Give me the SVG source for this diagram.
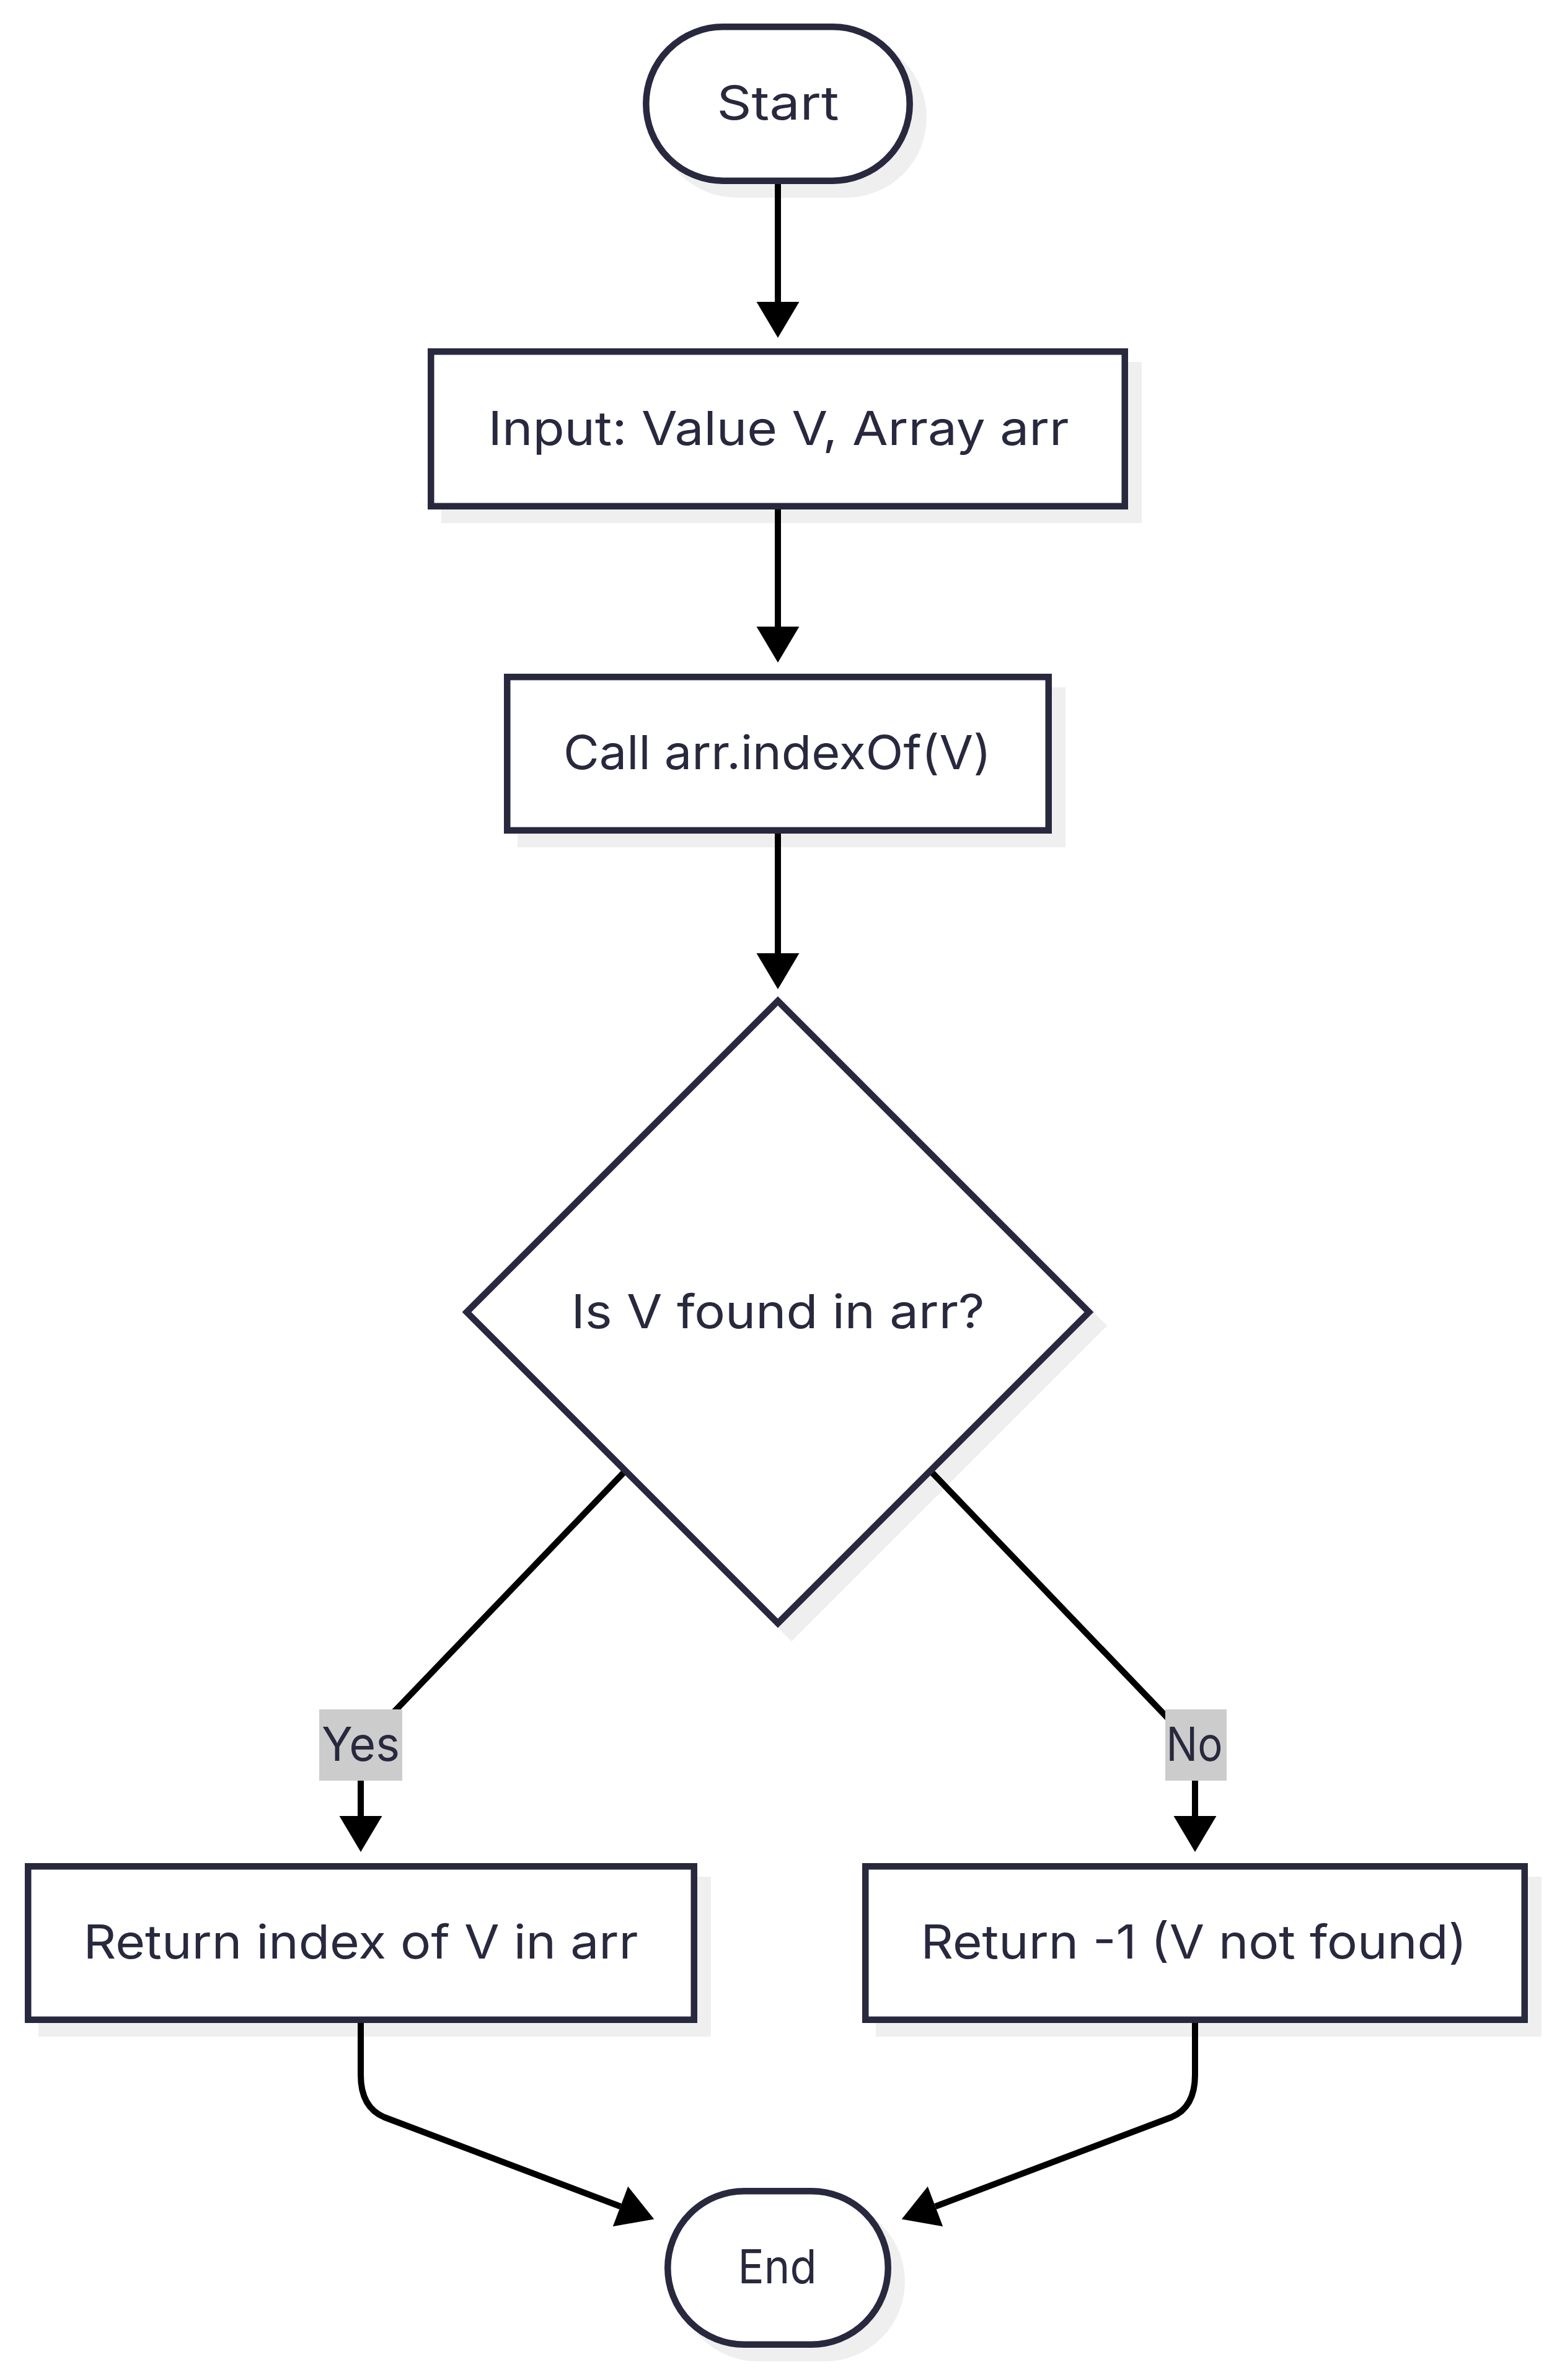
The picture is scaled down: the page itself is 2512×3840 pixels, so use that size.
<svg xmlns="http://www.w3.org/2000/svg" width="2512" height="3840" viewBox="0 0 2512 3840">
<style>
  .node-shape{fill:#ffffff;stroke:#28283e;stroke-width:10.5}
  .shadow{fill:#efefef;stroke:#efefef;stroke-width:10.5}
  .label{font-family:Inter,"Liberation Sans",sans-serif;font-size:76px;fill:#28283e;text-anchor:middle}
  .edge{fill:none;stroke:#000000;stroke-width:10;marker-end:url(#arrow)}
  .edge-label-bg{fill:#cccccc}
</style>
<defs>
  <marker id="arrow" markerUnits="userSpaceOnUse" markerWidth="60" markerHeight="70" refX="0" refY="34.5" orient="auto" overflow="visible">
    <path d="M0,0 L58,34.5 L0,69 z" fill="#000000"/>
  </marker>
</defs>
<rect x="0" y="0" width="2512" height="3840" fill="#ffffff"/>
<g id="shadows">
  <rect class="shadow" x="1064.3" y="65.3" width="425.4" height="248.4" rx="124.2" ry="124.2"/>
  <rect class="shadow" x="717.25" y="589.25" width="1119.5" height="249.5"/>
  <rect class="shadow" x="840.25" y="1114.25" width="873.5" height="247.5"/>
  <polygon class="shadow" points="1277,1637 1779,2139 1277,2641 775,2139"/>
  <rect class="shadow" x="67.25" y="3033.25" width="1074.5" height="247.5"/>
  <rect class="shadow" x="1418.25" y="3033.25" width="1063.5" height="247.5"/>
  <rect class="shadow" x="1099.25" y="3557.25" width="355.5" height="247.5" rx="123.75" ry="123.75"/>
</g>
<g id="connectors">
  <path class="edge" d="M1255 292 L1255 487"/>
  <path class="edge" d="M1255 817 L1255 1011"/>
  <path class="edge" d="M1255 1340 L1255 1538"/>
  <path class="edge" d="M1009 2373 L626 2772 Q582 2800 582 2840 L582 2930"/>
  <path class="edge" d="M1501 2373 L1884 2772 Q1928 2800 1928 2840 L1928 2930"/>
  <path class="edge" d="M582 3259 L582 3348 Q582 3400 620 3416 L1001 3560"/>
  <path class="edge" d="M1928 3259 L1928 3348 Q1928 3400 1890 3416 L1509 3560"/>
  <g id="label-yes">
    <rect class="edge-label-bg" x="515" y="2758" width="134" height="115"/>
    <text class="label" x="582" y="2841" textLength="126" lengthAdjust="spacingAndGlyphs">Yes</text>
  </g>
  <g id="label-no">
    <rect class="edge-label-bg" x="1880" y="2758" width="99" height="115"/>
    <text class="label" x="1927" y="2841" textLength="91" lengthAdjust="spacingAndGlyphs">No</text>
  </g>
</g>
<g id="node-start">
  <rect class="node-shape" x="1042.3" y="43.3" width="425.4" height="248.4" rx="124.2" ry="124.2"/>
  <text class="label" x="1255" y="193" textLength="197" lengthAdjust="spacingAndGlyphs">Start</text>
</g>
<g id="node-input">
  <rect class="node-shape" x="695.25" y="567.25" width="1119.5" height="249.5"/>
  <text class="label" x="1256" y="718" textLength="937" lengthAdjust="spacingAndGlyphs">Input: Value V, Array arr</text>
</g>
<g id="node-call">
  <rect class="node-shape" x="818.25" y="1092.25" width="873.5" height="247.5"/>
  <text class="label" x="1254" y="1241" textLength="690" lengthAdjust="spacingAndGlyphs">Call arr.indexOf(V)</text>
</g>
<g id="node-decision">
  <polygon class="node-shape" points="1255,1615 1757,2117 1255,2619 753,2117"/>
  <text class="label" x="1255" y="2143" textLength="667" lengthAdjust="spacingAndGlyphs">Is V found in arr?</text>
</g>
<g id="node-return-index">
  <rect class="node-shape" x="45.25" y="3011.25" width="1074.5" height="247.5"/>
  <text class="label" x="582" y="3160" textLength="895" lengthAdjust="spacingAndGlyphs">Return index of V in arr</text>
</g>
<g id="node-return-minus-one">
  <rect class="node-shape" x="1396.25" y="3011.25" width="1063.5" height="247.5"/>
  <text class="label" x="1926" y="3160" textLength="881" lengthAdjust="spacingAndGlyphs">Return -1 (V not found)</text>
</g>
<g id="node-end">
  <rect class="node-shape" x="1077.25" y="3535.25" width="355.5" height="247.5" rx="123.75" ry="123.75"/>
  <text class="label" x="1254" y="3684" textLength="127" lengthAdjust="spacingAndGlyphs">End</text>
</g>
</svg>
